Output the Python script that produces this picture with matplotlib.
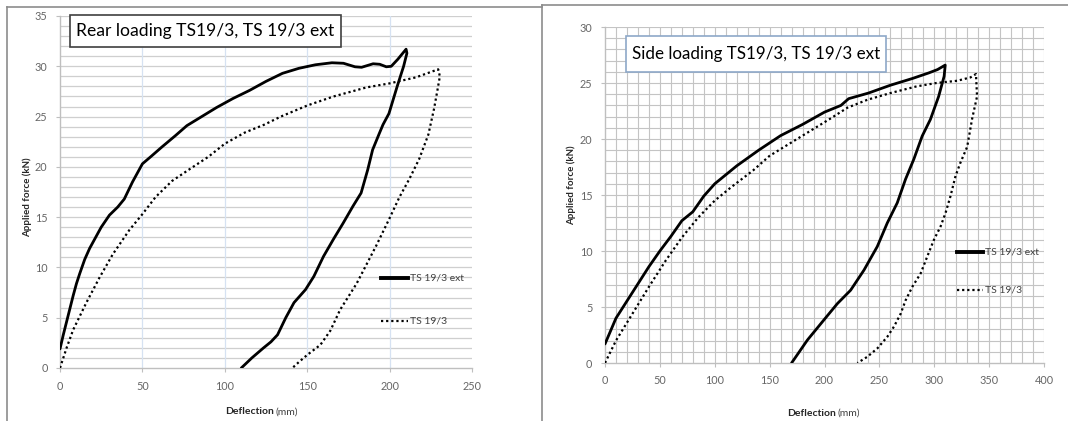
import matplotlib
matplotlib.use("Agg")
import matplotlib.pyplot as plt
from matplotlib.lines import Line2D
from matplotlib.patches import Rectangle

# ---------------- data ----------------
# Rear loading (left panel)
rear_ext_x = [0, 2, 4, 6, 8, 10, 12, 15, 18, 21, 25, 30, 35, 39, 44, 50, 55, 62, 70, 77, 85, 95,
              105, 115, 125, 135, 145, 155, 165, 172, 179, 183, 190, 194, 198, 201, 205, 210,
              210.5, 208.5, 204.6, 199.6, 196, 193.7, 189.7, 186.7, 182.7, 177.8, 171.8, 165.9,
              159.9, 154, 149, 142, 137, 132, 128, 123.5, 116.4, 110]
rear_ext_y = [1.9, 3.3, 4.6, 5.9, 7.2, 8.4, 9.4, 10.8, 11.9, 12.8, 14.0, 15.2, 16.0, 16.8, 18.5,
              20.3, 21.0, 22.0, 23.1, 24.1, 24.9, 25.9, 26.8, 27.6, 28.5, 29.3, 29.8, 30.15,
              30.35, 30.3, 29.95, 29.9, 30.25, 30.2, 29.95, 30.0, 30.7, 31.7,
              31.3, 30.0, 28.0, 25.3, 24.2, 23.3, 21.7, 19.7, 17.4, 16.1, 14.4, 12.8,
              11.1, 9.1, 7.8, 6.5, 5.0, 3.3, 2.6, 2.0, 1.0, 0.0]
rear_std_x = [0, 4, 8, 16, 24, 32, 42, 50, 58, 68, 78, 90, 100, 112, 124, 134, 150, 166, 186, 200,
              216, 229.5,
              230.5, 229, 227, 223.5, 218, 212, 206, 200, 192, 186, 180, 170, 164, 158, 150, 145, 141]
rear_std_y = [0, 2.0, 3.8, 6.5, 9.0, 11.3, 13.7, 15.3, 17.0, 18.6, 19.7, 21.0, 22.3, 23.4, 24.2,
              25.0, 26.1, 27.0, 27.9, 28.3, 28.9, 29.7,
              29.0, 27.6, 25.8, 23.2, 20.8, 18.8, 17.0, 14.9, 12.2, 10.3, 8.4, 5.8, 3.7, 2.3, 1.3,
              0.6, 0.0]

# Side loading (right panel)
side_ext_x = [0, 10, 25, 40, 50, 60, 70, 80, 90, 100, 120, 140, 160, 180, 200, 215, 222, 240, 260,
              280, 295, 303, 310,
              309, 304, 296.5, 289, 281.4, 273.8, 266.3, 257.2, 248.1, 236, 223.8, 211.7, 199.5,
              184.5, 170]
side_ext_y = [1.7, 4.0, 6.3, 8.6, 10.0, 11.3, 12.7, 13.5, 14.9, 16.0, 17.6, 19.0, 20.3, 21.3, 22.4,
              23.0, 23.6, 24.1, 24.8, 25.4, 25.9, 26.2, 26.6,
              25.6, 23.8, 21.75, 20.26, 18.2, 16.4, 14.3, 12.5, 10.4, 8.3, 6.5, 5.3, 3.85,
              2.06, 0.0]
side_std_x = [0, 10, 25, 40, 55, 70, 85, 100, 115, 135, 150, 170, 190, 205, 221, 239, 260, 284,
              302, 321, 333, 338,
              339, 334.5, 330, 323.9, 319.4, 314.8, 310.3, 305.8, 299.7, 293.6, 287.6, 280,
              273.9, 269.4, 263.3, 257.3, 248.2, 239.1, 230]
side_std_y = [0, 2.0, 4.4, 6.8, 9.1, 11.2, 13.0, 14.5, 15.7, 17.2, 18.5, 19.7, 20.9, 21.8, 22.8,
              23.5, 24.1, 24.7, 25.0, 25.2, 25.5, 25.8,
              23.8, 21.8, 19.3, 17.9, 16.7, 14.9, 13.4, 12.2, 11.0, 9.5, 8.0, 6.8,
              5.6, 4.4, 3.25, 2.35, 1.31, 0.56, 0.0]

rear_xticks = [0, 50, 100, 150, 200, 250]
rear_yticks = [0, 5, 10, 15, 20, 25, 30, 35]
side_xticks = [0, 50, 100, 150, 200, 250, 300, 350, 400]
side_yticks = [0, 5, 10, 15, 20, 25, 30]

rear_title = "Rear loading TS19/3, TS 19/3 ext"
side_title = "Side loading TS19/3, TS 19/3 ext"
label_ext = "TS 19/3 ext"
label_std = "TS 19/3"
ylabel = "Applied force (kN)"
xlabel_bold = "Deflection"
xlabel_unit = "(mm)"

# ---------------- figure ----------------
W, H = 1068, 421
fig = plt.figure(figsize=(W / 100, H / 100), dpi=100)
FONT = "Lato"
TICK_C = "#666666"


def fx(px):
    return px / W


def fy(py):
    return 1 - py / H


def make_axes(x0, x1, y0, y1):
    return fig.add_axes([fx(x0), fy(y1), fx(x1) - fx(x0), fy(y0) - fy(y1)])


# panel frames
for (xa, ya, xb, yb) in [(7, 7, 7, 421), (7, 7, 542, 7), (542, 5, 542, 421), (542, 5, 1068, 5)]:
    fig.add_artist(Line2D([fx(xa), fx(xb)], [fy(ya), fy(yb)], color="#8c8c8c", lw=1.2))

# ---- left panel ----
axL = make_axes(60, 472, 16, 368)
axL.set_xlim(0, 250)
axL.set_ylim(0, 35)
for yv in range(1, 36):
    axL.axhline(yv, color="#cfcfcf", lw=0.9, zorder=0)
for xv in rear_xticks[1:-1]:
    axL.axvline(xv, color="#d6e2f2", lw=0.9, zorder=0)
axL.plot(rear_ext_x, rear_ext_y, color="black", lw=2.0, solid_joinstyle="round",
         solid_capstyle="round", zorder=3)
axL.plot(rear_std_x, rear_std_y, color="black", lw=1.6, linestyle=(0, (1, 1.3)), zorder=3)

# ---- right panel ----
axR = make_axes(605, 1044, 27, 363)
axR.set_xlim(0, 400)
axR.set_ylim(0, 30)
for yv in range(1, 31):
    axR.axhline(yv, color="#c4c4c4", lw=0.8, zorder=0)
for xv in range(10, 401, 10):
    axR.axvline(xv, color="#c4c4c4", lw=0.8, zorder=0)
axR.plot(side_ext_x, side_ext_y, color="black", lw=2.0, solid_joinstyle="round",
         solid_capstyle="round", zorder=3)
axR.plot(side_std_x, side_std_y, color="black", lw=1.6, linestyle=(0, (1, 1.3)), zorder=3)

for ax, xt, yt in [(axL, rear_xticks, rear_yticks), (axR, side_xticks, side_yticks)]:
    ax.set_xticks(xt)
    ax.set_yticks(yt)
    ax.set_xticklabels([str(v) for v in xt])
    ax.set_yticklabels([str(v) for v in yt])
    for s in ["top", "right"]:
        ax.spines[s].set_visible(False)
    for s in ["left", "bottom"]:
        ax.spines[s].set_color("#bfbfbf")
        ax.spines[s].set_linewidth(1.0)
    ax.tick_params(axis="both", length=3, width=0.8, color="#bfbfbf", labelcolor=TICK_C,
                   labelsize=7.8, pad=6)
    for lab in ax.get_xticklabels() + ax.get_yticklabels():
        lab.set_fontfamily(FONT)
    ax.set_facecolor("white")

# ---- titles (boxed) ----
fig.canvas.draw()
renderer = fig.canvas.get_renderer()


def boxed_title(text, cx, cy, bx0, by0, bx1, by1, target_w, edge):
    fig.add_artist(Rectangle((fx(bx0), fy(by1)), fx(bx1) - fx(bx0), fy(by0) - fy(by1),
                             transform=fig.transFigure, facecolor="white", edgecolor=edge,
                             lw=1.2, zorder=5))
    t = fig.text(fx(cx), fy(cy), text, ha="center", va="center", fontsize=14,
                 family=FONT, color="black", zorder=6)
    w = t.get_window_extent(renderer).width
    t.set_fontsize(14 * target_w / w)
    return t


boxed_title(rear_title, 205.5, 31, 70, 15, 341, 47, 258, "#404040")
boxed_title(side_title, 756, 54, 626, 36, 886, 72, 250, "#8da8c8")

# ---- axis labels ----
fig.text(fx(27), fy(197), ylabel, rotation=90, ha="center", va="center", fontsize=7,
         fontweight="bold", family=FONT, color="#262626")
fig.text(fx(571), fy(185), ylabel, rotation=90, ha="center", va="center", fontsize=7,
         fontweight="bold", family=FONT, color="#262626")
fig.text(fx(274), fy(412), xlabel_bold, ha="right", va="center", fontsize=7.5,
         fontweight="bold", family=FONT, color="#262626")
fig.text(fx(275), fy(412), xlabel_unit, ha="left", va="center", fontsize=7.5,
         family=FONT, color="#404040")
fig.text(fx(836), fy(413), xlabel_bold, ha="right", va="center", fontsize=7.5,
         fontweight="bold", family=FONT, color="#262626")
fig.text(fx(837), fy(413), xlabel_unit, ha="left", va="center", fontsize=7.5,
         family=FONT, color="#404040")

# ---- legends ----
def legend(px0, px1, py_solid, py_dot):
    fig.add_artist(Line2D([fx(px0), fx(px1)], [fy(py_solid)] * 2, color="black", lw=2.8))
    fig.add_artist(Line2D([fx(px0), fx(px1)], [fy(py_dot)] * 2, color="black", lw=1.6,
                          linestyle=(0, (1, 1.3))))
    fig.text(fx(px1 + 2), fy(py_solid), label_ext, ha="left", va="center", fontsize=7.5,
             family=FONT, color="#404040")
    fig.text(fx(px1 + 2), fy(py_dot), label_std, ha="left", va="center", fontsize=7.5,
             family=FONT, color="#404040")


legend(381, 408, 278, 321)
legend(957, 983, 252, 290)

fig.savefig("out.png", dpi=100)
